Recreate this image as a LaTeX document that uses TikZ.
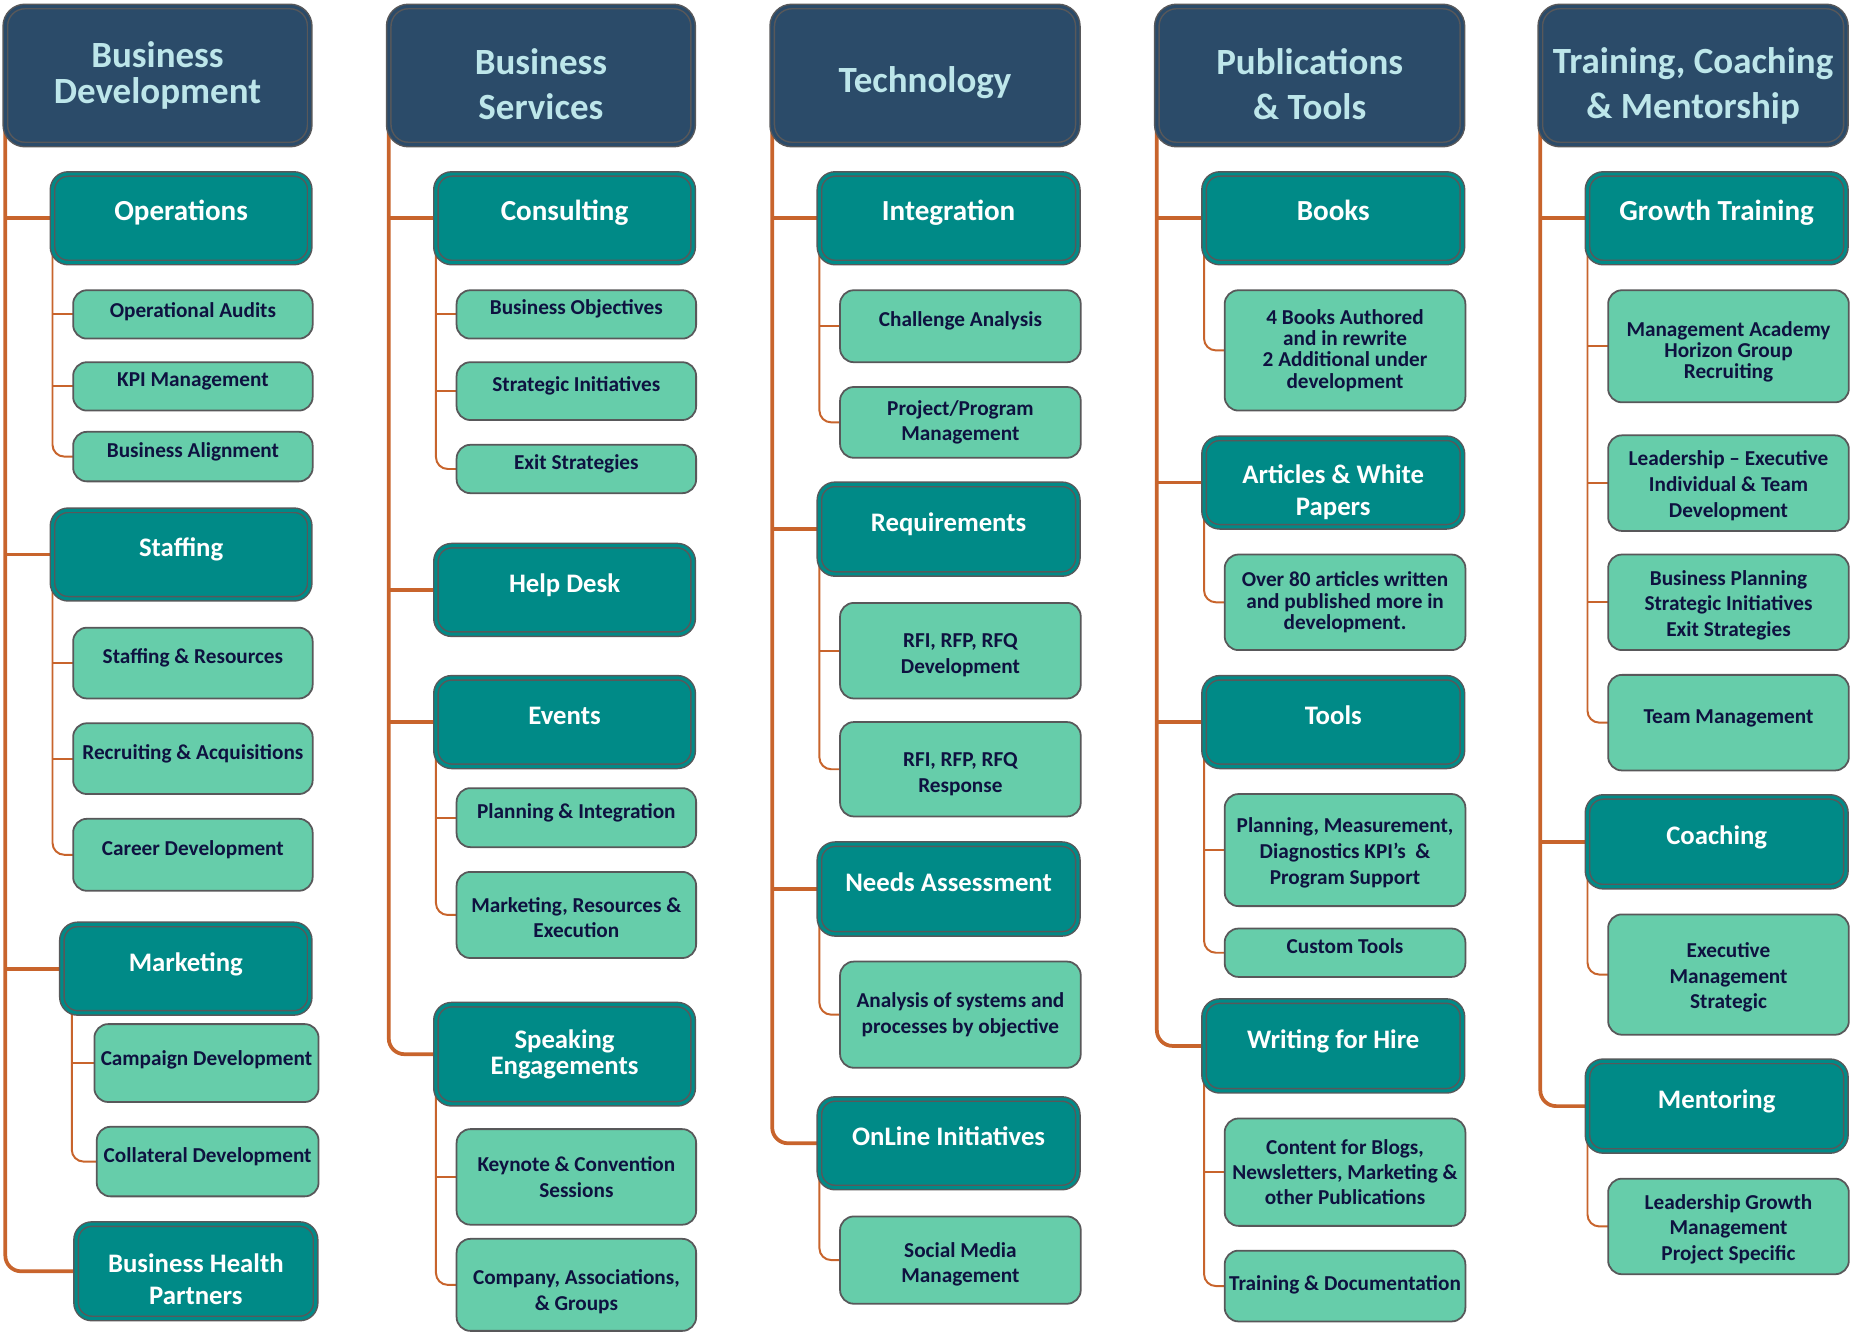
\documentclass[tikz,border=0pt]{standalone}
\usepackage{fontspec}
\setmainfont{Carlito}
\usetikzlibrary{backgrounds}
\definecolor{hdr}{HTML}{2B4B69}
\definecolor{hdrtxt}{HTML}{BDE6EA}
\definecolor{midc}{HTML}{008A87}
\definecolor{leafc}{HTML}{66CDAA}
\definecolor{leaftxt}{HTML}{0E1240}
\definecolor{bord}{HTML}{58585A}
\definecolor{conn}{HTML}{C8642C}
\tikzset{
 hf/.style={font=\fontsize{18.8}{#1}\selectfont\bfseries},
 mf/.style={font=\fontsize{13.6}{#1}\selectfont\bfseries},
 mfbig/.style={font=\fontsize{14.8}{16.2}\selectfont\bfseries},
 lf/.style={font=\fontsize{10.8}{#1}\selectfont\bfseries},
 dbl/.style={draw=bord, line width=0.75pt, double distance=1.5pt, rounded corners=#1, inner sep=0pt, outer sep=0pt, align=center},
 hdrbox/.style={dbl=10pt, fill=hdr, double=hdr, text=hdrtxt, hf=22.8pt},
 midbox/.style={dbl=8pt, fill=midc, double=midc, text=white, mf=16.2pt},
 midone/.style={midbox, text height=9pt, text depth=6.6pt},
 leafbox/.style={draw=bord, line width=0.9pt, fill=leafc, rounded corners=7pt, text=leaftxt, lf=12.9pt, inner sep=0pt, outer sep=0pt, align=center},
 leafone/.style={leafbox, text height=6pt, text depth=5.5pt},
 trunk/.style={draw=conn, line width=1.9pt, rounded corners=8pt},
 sub/.style={draw=conn, line width=1pt, rounded corners=6pt},
}
\newcommand\tp[1][10.5pt]{\rule{0pt}{#1}}
\newcommand\bx[8][]{%
 \pgfmathsetmacro\bxw{(#6-#4)*0.6}%
 \pgfmathsetmacro\bxh{(#7-#5)*0.6}%
 \node[#2, minimum width=\bxw pt, minimum height=\bxh pt, #1] (#3) at ({(#4+#6)/2},{(#5+#7)/2}) {#8};}
\newcommand\bxd[8][]{%
 \pgfmathsetmacro\bxw{(#6-#4-5)*0.6}%
 \pgfmathsetmacro\bxh{(#7-#5-5)*0.6}%
 \node[#2, minimum width=\bxw pt, minimum height=\bxh pt, #1] (#3) at ({(#4+#6)/2},{(#5+#7)/2}) {#8};}
\begin{document}
\begin{tikzpicture}[x=0.6pt,y=-0.6pt]
\useasboundingbox (0,0) rectangle (1568,1130);
% ---------- Column 1
\bxd[hf=18.6pt]{hdrbox}{h1}{2}{3}{265}{125}{Business\\Development}
\bxd[mfbig]{midone}{ops}{42}{145}{265}{225}{Operations}
\bx[text depth=3pt]{leafone}{oa}{62}{246}{265}{287}{Operational Audits}
\bx{leafone}{kpi}{62}{307}{265}{348}{KPI Management}
\bx{leafone}{ba}{62}{366}{265}{408}{Business Alignment}
\bxd{midone}{stf}{42}{430}{265}{510}{Staffing}
\bx{leafone}{sr}{62}{532}{265}{592}{Staffing \& Resources}
\bx{leafone}{ra}{62}{613}{265}{673}{Recruiting \& Acquisitions}
\bx{leafone}{cd}{62}{694}{265}{755}{Career Development}
\bxd{midone}{mkt}{50}{781}{265}{861}{Marketing}
\bx[text depth=4pt]{leafone}{camp}{80}{868}{270}{934}{Campaign Development}
\bx{leafone}{coll}{82}{955}{270}{1014}{Collateral Development}
\bxd{midbox}{bhp}{62}{1035}{270}{1120}{\tp[17.4pt]Business Health\\Partners}
% ---------- Column 2
\bxd{hdrbox}{h2}{327}{3}{590}{125}{\tp[22pt]Business\\Services}
\bxd[mfbig]{midone}{cons}{367}{145}{590}{225}{Consulting}
\bx{leafone}{bo}{387}{246}{590}{287}{Business Objectives}
\bx{leafone}{si}{387}{307}{590}{356}{Strategic Initiatives}
\bx{leafone}{es}{387}{377}{590}{418}{Exit Strategies}
\bxd{midone}{hd}{367}{460}{590}{540}{Help Desk}
\bxd{midone}{ev}{367}{572}{590}{652}{Events}
\bx{leafone}{pi}{387}{668}{590}{718}{Planning \& Integration}
\bx{leafbox}{mre}{387}{739}{590}{812}{\tp Marketing, Resources \&\\Execution}
\bxd[mf=13.2pt]{midbox}{se}{367}{849}{590}{938}{Speaking\\Engagements}
\bx[lf=13.2pt]{leafbox}{kcs}{387}{957}{590}{1038}{Keynote \& Convention\\Sessions}
\bx[lf=13.2pt]{leafbox}{cag}{387}{1050}{590}{1128}{\tp[14.7pt]Company, Associations,\\\& Groups}
% ---------- Column 3
\bxd{hdrbox}{h3}{652}{3}{916}{125}{\tp[20pt]Technology}
\bxd[mfbig]{midone}{intg}{692}{145}{916}{225}{Integration}
\bx{leafone}{ca}{712}{246}{916}{307}{Challenge Analysis}
\bx{leafbox}{ppm}{712}{328}{916}{388}{Project/Program\\Management}
\bxd{midone}{req}{692}{408}{916}{489}{Requirements}
\bx{leafbox}{rfd}{712}{511}{916}{592}{\tp[11.7pt]RFI, RFP, RFQ\\Development}
\bx{leafbox}{rfr}{712}{612}{916}{692}{\tp[12pt]RFI, RFP, RFQ\\Response}
\bxd{midone}{na}{692}{713}{916}{794}{Needs Assessment}
\bx{leafbox}{asp}{712}{815}{916}{905}{Analysis of systems and\\processes by objective}
\bxd{midone}{oi}{692}{929}{916}{1009}{OnLine Initiatives}
\bx{leafbox}{smm}{712}{1031}{916}{1105}{\tp[11.7pt]Social Media\\Management}
% ---------- Column 4
\bxd{hdrbox}{h4}{978}{3}{1242}{125}{\tp[22pt]Publications\\\& Tools}
\bxd[mfbig]{midone}{bk}{1018}{145}{1242}{225}{Books}
\bx[lf=10.8pt]{leafbox}{bka}{1038}{246}{1242}{348}{4 Books Authored\\and in rewrite\\2 Additional under\\development}
\bxd{midbox}{awp}{1018}{369}{1242}{449}{\tp[19.8pt]Articles \& White\\Papers}
\bx[lf=10.8pt]{leafbox}{o80}{1038}{470}{1242}{551}{Over 80 articles written\\and published more in\\development.}
\bxd{midone}{tl}{1018}{572}{1242}{652}{Tools}
\bx[lf=13.2pt]{leafbox}{pmd}{1038}{673}{1242}{768}{\tp Planning, Measurement,\\Diagnostics KPI’s~~\&\\Program Support}
\bx{leafone}{ct}{1038}{787}{1242}{828}{Custom Tools}
\bxd{midone}{wfh}{1018}{846}{1242}{927}{Writing for Hire}
\bx{leafbox}{cfb}{1038}{948}{1242}{1039}{Content for Blogs,\\Newsletters, Marketing \&\\other Publications}
\bx[text depth=1.5pt]{leafone}{td}{1038}{1060}{1242}{1120}{Training \& Documentation}
% ---------- Column 5
\bxd{hdrbox}{h5}{1303}{3}{1567}{125}{\tp[23.6pt]Training, Coaching\\\& Mentorship}
\bxd[mfbig]{midone}{gt}{1343}{145}{1567}{225}{Growth Training}
\bx[lf=10.8pt]{leafbox}{mah}{1363}{246}{1567}{341}{\tp[13.5pt]Management Academy\\Horizon Group\\Recruiting}
\bx[lf=13.2pt]{leafbox}{lei}{1363}{369}{1567}{450}{\tp Leadership – Executive\\Individual \& Team\\Development}
\bx{leafbox}{bps}{1363}{470}{1567}{551}{\tp Business Planning\\Strategic Initiatives\\Exit Strategies}
\bx{leafone}{tm}{1363}{572}{1567}{653}{Team Management}
\bxd{midone}{coa}{1343}{673}{1567}{754}{Coaching}
\bx{leafbox}{ems}{1363}{775}{1567}{877}{\tp Executive\\Management\\Strategic}
\bxd{midone}{men}{1343}{897}{1567}{978}{Mentoring}
\bx[lf=13.2pt]{leafbox}{lgm}{1363}{999}{1567}{1080}{\tp Leadership Growth\\Management\\Project Specific}
% ---------- Connectors
\begin{scope}[on background layer]
\fill[white] (0,0) rectangle (1568,1130);
% column 1
\draw[trunk] ([yshift=10pt]h1.south west) |- (bhp.west);
\foreach \m in {ops,stf,mkt} \draw[trunk] (h1.south west |- \m.west) -- (\m.west);
\draw[sub] ([yshift=6pt]ops.south west) |- (ba.west);
\foreach \l in {oa,kpi} \draw[sub] (ops.south west |- \l.west) -- (\l.west);
\draw[sub] ([yshift=6pt]stf.south west) |- (cd.west);
\foreach \l in {sr,ra} \draw[sub] (stf.south west |- \l.west) -- (\l.west);
\draw[sub] ([xshift=5pt,yshift=6pt]mkt.south west) |- (coll.west);
\draw[sub] ([xshift=5pt]mkt.south west |- camp.west) -- (camp.west);
% column 2
\draw[trunk] ([yshift=10pt]h2.south west) |- (se.west);
\foreach \m in {cons,hd,ev} \draw[trunk] (h2.south west |- \m.west) -- (\m.west);
\draw[sub] ([yshift=6pt]cons.south west) |- (es.west);
\foreach \l in {bo,si} \draw[sub] (cons.south west |- \l.west) -- (\l.west);
\draw[sub] ([yshift=6pt]ev.south west) |- (mre.west);
\draw[sub] (ev.south west |- pi.west) -- (pi.west);
\draw[sub] ([yshift=6pt]se.south west) |- (cag.west);
\draw[sub] (se.south west |- kcs.west) -- (kcs.west);
% column 3
\draw[trunk] ([yshift=10pt]h3.south west) |- (oi.west);
\foreach \m in {intg,req,na} \draw[trunk] (h3.south west |- \m.west) -- (\m.west);
\draw[sub] ([yshift=6pt]intg.south west) |- (ppm.west);
\draw[sub] (intg.south west |- ca.west) -- (ca.west);
\draw[sub] ([yshift=6pt]req.south west) |- (rfr.west);
\draw[sub] (req.south west |- rfd.west) -- (rfd.west);
\draw[sub] ([yshift=6pt]na.south west) |- (asp.west);
\draw[sub] ([yshift=6pt]oi.south west) |- (smm.west);
% column 4
\draw[trunk] ([yshift=10pt]h4.south west) |- (wfh.west);
\foreach \m in {bk,awp,tl} \draw[trunk] (h4.south west |- \m.west) -- (\m.west);
\draw[sub] ([yshift=6pt]bk.south west) |- (bka.west);
\draw[sub] ([yshift=6pt]awp.south west) |- (o80.west);
\draw[sub] ([yshift=6pt]tl.south west) |- (ct.west);
\draw[sub] (tl.south west |- pmd.west) -- (pmd.west);
\draw[sub] ([yshift=6pt]wfh.south west) |- (td.west);
\draw[sub] (wfh.south west |- cfb.west) -- (cfb.west);
% column 5
\draw[trunk] ([yshift=10pt]h5.south west) |- (men.west);
\foreach \m in {gt,coa} \draw[trunk] (h5.south west |- \m.west) -- (\m.west);
\draw[sub] ([yshift=6pt]gt.south west) |- (tm.west);
\foreach \l in {mah,lei,bps} \draw[sub] (gt.south west |- \l.west) -- (\l.west);
\draw[sub] ([yshift=6pt]coa.south west) |- (ems.west);
\draw[sub] ([yshift=6pt]men.south west) |- (lgm.west);
\end{scope}
\end{tikzpicture}
\end{document}
